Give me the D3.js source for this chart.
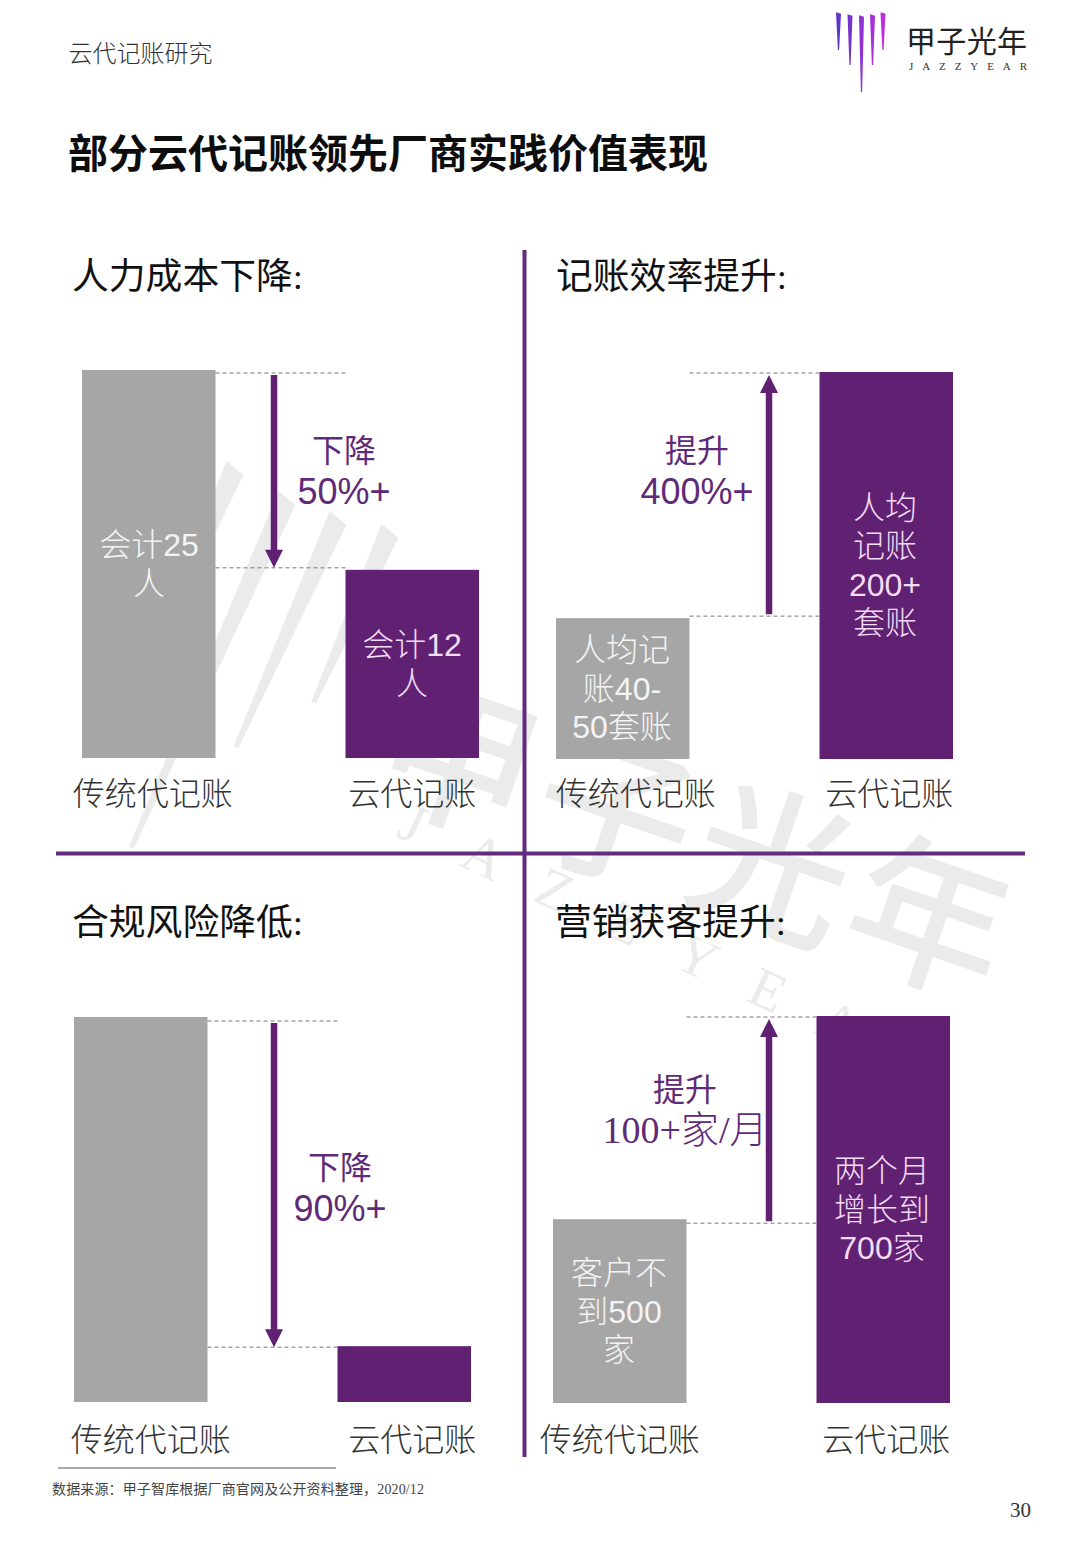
<!DOCTYPE html>
<html>
<head>
<meta charset="utf-8">
<script src="https://cdn.jsdelivr.net/npm/d3@7"></script>
<style>
html, body { margin: 0; padding: 0; background: #fff; }
svg { display: block; }
text { dominant-baseline: central; }
</style>
</head>
<body>
<div id="chart"></div>
<script>
// chart values, bar height is an index where the tall bar of a panel = 100
var categories = ["传统代记账", "云代记账"];
var panelTitles = ["人力成本下降:", "记账效率提升:", "合规风险降低:", "营销获客提升:"];
var costIndex = [100, 48.5];
var efficiencyIndex = [36.4, 100];
var complianceIndex = [100, 14.5];
var marketingIndex = [47.5, 100];
var costLabels = [["会计25", "人"], ["会计12", "人"]];
var efficiencyLabels = [["人均记", "账40-", "50套账"], ["人均", "记账", "200+", "套账"]];
var complianceLabels = [[], []];
var marketingLabels = [["客户不", "到500", "家"], ["两个月", "增长到", "700家"]];
var changeVerbs = ["下降", "提升", "下降", "提升"];
var changeAmounts = ["50%+", "400%+", "90%+", "100+家/月"];

var W = 1080, H = 1560;
var PURPLE = "#612173", GREY = "#a6a6a6", RULE = "#642a80", WATERMARK = "#ebebeb";
var CJK = '"Noto Sans CJK SC"';
var SANS = '"Liberation Sans",' + CJK;
var SERIF = '"Liberation Serif",' + CJK;

// placement of each panel, separate from the values
var panels = [
  { values: costIndex, labels: costLabels, x0: 82, base: 758, top: 370, dash: [3, -2], arrowX: 274, down: true, catPad: 22,
    titleX: 72, titleY: 276, catDx: [4, 0], labelX: [149, 412], labelY: [545, 645], noteX: 344, noteY: 450 },
  { values: efficiencyIndex, labels: efficiencyLabels, x0: 556, base: 759, top: 372, dash: [-2, 1], arrowX: 769, down: false, catPad: 21,
    titleX: 556, titleY: 276, catDx: [13, 3], labelX: [622, 885], labelY: [650, 507.5], noteX: 697, noteY: 450 },
  { values: complianceIndex, labels: complianceLabels, x0: 74, base: 1402, top: 1017, dash: [4, 1], arrowX: 274, down: true, catPad: 24,
    titleX: 72, titleY: 922, catDx: [10, 8], labelX: [141, 404], labelY: [0, 0], noteX: 340, noteY: 1167 },
  { values: marketingIndex, labels: marketingLabels, x0: 553, base: 1403, top: 1016, dash: [4, 1], arrowX: 769, down: false, catPad: 23,
    titleX: 555, titleY: 922, catDx: [0, 3], labelX: [619, 882], labelY: [1273, 1171], noteX: 685, noteY: 1089 }
];

var svg = d3.select("#chart").append("svg").attr("width", W).attr("height", H);
svg.append("rect").attr("width", W).attr("height", H).attr("fill", "#fff");

// tapered logo spikes, used for header logo and watermark
function spikePath(x, yTop, width, len, skew, tip) {
  return "M" + (x - width / 2) + "," + (yTop - skew) + "L" + (x + width / 2) + "," + (yTop + skew) +
    "L" + (x + tip / 2) + "," + (yTop + len) + "L" + (x - tip / 2) + "," + (yTop + len) + "Z";
}

// watermark
var wm = svg.append("g").attr("fill", WATERMARK);
[[183, 450, 188], [235, 468, 251], [287, 498, 383], [338, 518, 251], [390, 531, 188]].forEach(function(s) {
  wm.append("path")
    .attr("d", spikePath(0, 0, 21, s[2], 3, 5))
    .attr("transform", "translate(" + s[0] + "," + s[1] + ") rotate(24)");
});
"甲子光年".split("").forEach(function(ch, i) {
  wm.append("text")
    .attr("transform", "translate(" + (462 + i * 157) + "," + (749 + i * 53) + ") rotate(19)")
    .attr("text-anchor", "middle")
    .attr("font-family", CJK).attr("font-size", 158).attr("font-weight", 500)
    .text(ch);
});
"JAZZYEAR".split("").forEach(function(ch, i) {
  wm.append("text")
    .attr("transform", "translate(" + (413 + i * 71) + "," + (823 + i * 33.4) + ") rotate(25)")
    .attr("text-anchor", "middle")
    .attr("font-family", SERIF).attr("font-size", 56)
    .text(ch);
});

// header
svg.append("text").attr("x", 68.5).attr("y", 51.5).attr("font-family", CJK).attr("font-size", 24).attr("font-weight", 300).attr("fill", "#333").text("云代记账研究");
svg.append("text").attr("x", 68).attr("y", 151).attr("font-family", CJK).attr("font-size", 40).attr("font-weight", 700).attr("fill", "#0d0d0d").text("部分云代记账领先厂商实践价值表现");

// header logo
var defs = svg.append("defs");
var grad = defs.append("linearGradient").attr("id", "logoGrad").attr("gradientUnits", "userSpaceOnUse")
  .attr("x1", 836).attr("x2", 886).attr("y1", 0).attr("y2", 0);
grad.append("stop").attr("offset", 0).attr("stop-color", "#5a35c4");
grad.append("stop").attr("offset", 1).attr("stop-color", "#c22fe0");
[[838.5, 13, 37], [850, 15, 50], [861.5, 16, 76], [872.5, 15, 50], [883, 13, 37]].forEach(function(s) {
  svg.append("path").attr("d", spikePath(s[0], s[1], 5, s[2], 0.8, 1.2)).attr("fill", "url(#logoGrad)");
});
svg.append("text").attr("x", 906).attr("y", 39).attr("font-family", CJK).attr("font-size", 30).attr("font-weight", 400)
  .attr("textLength", 121).attr("fill", "#222").text("甲子光年");
svg.append("text").attr("x", 909).attr("y", 66).attr("font-family", SERIF).attr("font-size", 11)
  .attr("textLength", 118).attr("fill", "#333").text("JAZZYEAR");

// quadrant rules
svg.append("line").attr("x1", 524.5).attr("x2", 524.5).attr("y1", 250).attr("y2", 1457).attr("stroke", RULE).attr("stroke-width", 4);
svg.append("line").attr("x1", 56).attr("x2", 1025).attr("y1", 853.5).attr("y2", 853.5).attr("stroke", RULE).attr("stroke-width", 4);

panels.forEach(function(p, pi) {
  var g = svg.append("g");
  var x = d3.scaleBand().domain(categories).range([p.x0, p.x0 + 397]).paddingInner(0.4934);
  var y = d3.scaleLinear().domain([0, 100]).range([p.base, p.top]);

  g.append("text").attr("x", p.titleX).attr("y", p.titleY)
    .attr("font-family", SERIF).attr("font-size", 36.8).attr("font-weight", 400).attr("fill", "#111")
    .text(panelTitles[pi]);

  g.selectAll("rect.bar").data(p.values).enter().append("rect")
    .attr("class", "bar")
    .attr("x", function(d, i) { return x(categories[i]); })
    .attr("y", function(d) { return y(d); })
    .attr("width", x.bandwidth())
    .attr("height", function(d) { return p.base - y(d); })
    .attr("fill", function(d, i) { return i === 0 ? GREY : PURPLE; });

  // category axis
  var axis = g.append("g").attr("transform", "translate(0," + p.base + ")")
    .call(d3.axisBottom(x).tickSize(0).tickPadding(p.catPad));
  axis.select(".domain").remove();
  axis.selectAll("text")
    .attr("font-family", CJK).attr("font-size", 32).attr("font-weight", 300).attr("fill", "#333")
    .attr("dy", "0.35em")
    .attr("dx", function(d, i) { return p.catDx[i]; });

  // bar labels
  p.labels.forEach(function(lines, i) {
    g.selectAll("text.l" + i).data(lines).enter().append("text")
      .attr("class", "l" + i)
      .attr("x", p.labelX[i])
      .attr("y", function(d, k) { return p.labelY[i] + k * 38.6; })
      .attr("text-anchor", "middle")
      .attr("font-family", SANS).attr("font-size", 32).attr("font-weight", 300)
      .attr("fill", i === 0 ? "#f4f4f4" : "#f3dcf5")
      .text(function(d) { return d; });
  });

  // dashed guides, running across the gap between the two bars
  var gapLeft = x(categories[0]) + x.bandwidth(), gapRight = x(categories[1]);
  var guideY = p.values.map(function(v, i) { return y(v) + p.dash[i]; });
  g.selectAll("line.guide").data(guideY).enter().append("line")
    .attr("class", "guide")
    .attr("x1", gapLeft).attr("x2", gapRight)
    .attr("y1", function(d) { return d; }).attr("y2", function(d) { return d; })
    .attr("stroke", "#777").attr("stroke-width", 1).attr("stroke-dasharray", "4 3");

  // arrow from the old level to the new level
  var yStart = p.down ? guideY[0] + 2 : guideY[0] - 2;
  var yEnd = p.down ? guideY[1] : guideY[1] + 2;
  var dir = p.down ? 1 : -1;
  g.append("line").attr("x1", p.arrowX).attr("x2", p.arrowX)
    .attr("y1", yStart).attr("y2", yEnd - dir * 16)
    .attr("stroke", PURPLE).attr("stroke-width", 6.5);
  g.append("path")
    .attr("d", d3.line()([[p.arrowX - 9, yEnd - dir * 18], [p.arrowX + 9, yEnd - dir * 18], [p.arrowX, yEnd]]) + "Z")
    .attr("fill", PURPLE);

  // change note
  g.append("text").attr("x", p.noteX).attr("y", p.noteY - 2)
    .attr("text-anchor", "middle").attr("font-family", CJK).attr("font-size", 32).attr("font-weight", 400).attr("fill", "#5f2a78")
    .text(changeVerbs[pi]);
  g.append("text").attr("x", p.noteX).attr("y", p.noteY + 41)
    .attr("text-anchor", "middle").attr("font-family", pi === 3 ? SERIF : SANS).attr("font-size", pi === 3 ? 38 : 36).attr("font-weight", 300).attr("fill", "#5f2a78")
    .text(changeAmounts[pi]);
});

// footer, full width colon and comma written as escapes
svg.append("line").attr("x1", 58).attr("x2", 336).attr("y1", 1468).attr("y2", 1468).attr("stroke", "#555").attr("stroke-width", 1.2);
svg.append("text").attr("x", 52).attr("y", 1489).attr("font-family", SERIF).attr("font-size", 14).attr("fill", "#444")
  .attr("textLength", 372)
  .text("数据来源\uFF1A甲子智库根据厂商官网及公开资料整理\uFF0C2020/12");
svg.append("text").attr("x", 1031).attr("y", 1510).attr("text-anchor", "end").attr("font-family", SERIF).attr("font-size", 21).attr("fill", "#333").text("30");
</script>
</body>
</html>
